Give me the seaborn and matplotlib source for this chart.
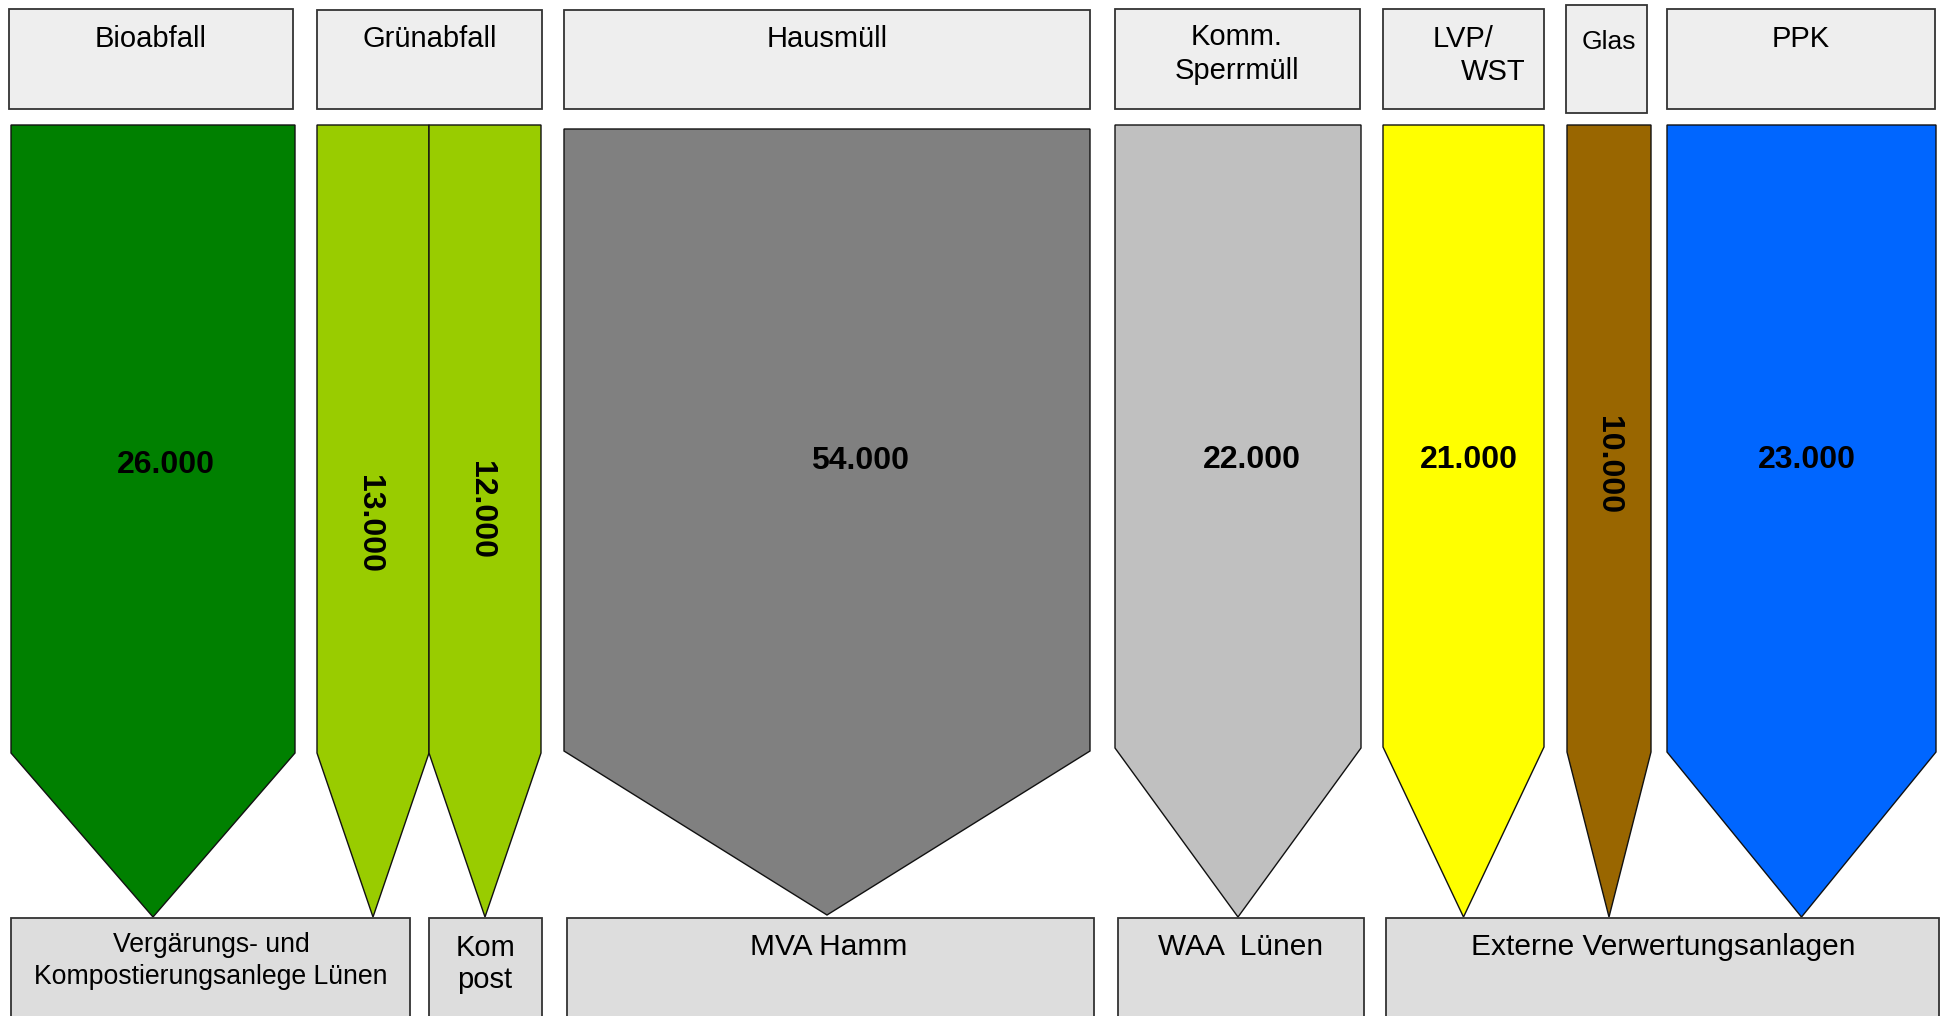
import matplotlib
matplotlib.use("Agg")
import matplotlib.pyplot as plt
from matplotlib.patches import Polygon, Rectangle
import seaborn as sns

# ---------------- data ----------------
flow_names = ["Bioabfall", "Grünabfall", "Grünabfall", "Hausmüll", "Komm. Sperrmüll",
              "LVP/WST", "Glas", "PPK"]
flow_values = [26000, 13000, 12000, 54000, 22000, 21000, 10000, 23000]
flow_colors = ["#008000", "#99cc00", "#99cc00", "#808080", "#c0c0c0",
               "#ffff00", "#996600", "#0066ff"]
flow_label_rot = [0, 270, 270, 0, 0, 0, 270, 0]

source_labels = ["Bioabfall", "Grünabfall", "Hausmüll", "Komm.\nSperrmüll",
                 "LVP/", "Glas", "PPK"]
source_extra = ["WST"]
target_labels = ["Vergärungs- und\nKompostierungsanlege Lünen", "Kom\npost",
                 "MVA Hamm", "WAA  Lünen", "Externe Verwertungsanlagen"]

# ---------------- layout (pixel space of the 1944x1016 canvas) ----------------
arrow_x0 = [11, 317, 429, 564, 1115, 1383, 1567, 1667]
arrow_x1 = [295, 429, 541, 1090, 1361, 1544, 1651, 1936]
arrow_top = [125, 125, 125, 129, 125, 125, 125, 125]
arrow_shoulder = [753, 753, 753, 751, 748, 747, 752, 752]
arrow_tip = [917, 917, 917, 915, 917, 917, 917, 917]
label_pos = [(166, 465), (369, 524), (481, 510), (860, 461), (1252, 460),
             (1469, 460), (1608, 465), (1807, 460)]

src_box = [(9, 9, 293, 109), (317, 10, 542, 109), (564, 10, 1090, 109),
           (1115, 9, 1360, 109), (1383, 9, 1544, 109), (1566, 5, 1647, 113),
           (1667, 9, 1935, 109)]
src_text_xy = [(151, 39), (430, 39), (827, 39), (1237, 54), (1463, 39), (1609, 42), (1801, 39)]
src_extra_xy = [(1493, 72)]
src_fs = [21, 21, 21, 21, 21, 19, 21]

tgt_box = [(11, 918, 410, 1030), (429, 918, 542, 1030), (567, 918, 1094, 1030),
           (1118, 918, 1364, 1030), (1386, 918, 1939, 1030)]
tgt_text_xy = [(211, 961), (485, 964), (829, 947), (1241, 947), (1663, 947)]
tgt_fs = [19.2, 21, 21.5, 21.5, 21.5]
tgt_ls = [1.25, 1.22, 1, 1, 1]

# ---------------- drawing ----------------
sns.set_theme(style="white")
plt.rcParams["font.family"] = ["Liberation Sans", "DejaVu Sans"]

fig = plt.figure(figsize=(19.44, 10.16), dpi=100)
ax = fig.add_axes([0, 0, 1, 1])
ax.set_xlim(0, 1944)
ax.set_ylim(1016, 0)
ax.axis("off")

# source boxes
for (x0, y0, x1, y1), txt, (tx, ty), fs in zip(src_box, source_labels, src_text_xy, src_fs):
    ax.add_patch(Rectangle((x0, y0), x1 - x0, y1 - y0, facecolor="#eeeeee",
                           edgecolor="#333333", linewidth=1.3))
    ax.text(tx, ty, txt, ha="center", va="center", fontsize=fs, color="black",
            linespacing=1.24)
for txt, (tx, ty) in zip(source_extra, src_extra_xy):
    ax.text(tx, ty, txt, ha="center", va="center", fontsize=21, color="black")

# flow arrows
for i, v in enumerate(flow_values):
    x0, x1 = arrow_x0[i], arrow_x1[i]
    xm = (x0 + x1) / 2
    poly = Polygon([(x0, arrow_top[i]), (x1, arrow_top[i]), (x1, arrow_shoulder[i]),
                    (xm, arrow_tip[i]), (x0, arrow_shoulder[i])], closed=True,
                   facecolor=flow_colors[i], edgecolor="#111111", linewidth=1.0)
    ax.add_patch(poly)
    lbl = f"{v:,}".replace(",", ".")
    lx, ly = label_pos[i]
    ax.text(lx, ly, lbl, ha="center", va="center", fontsize=23, fontweight="bold",
            rotation=flow_label_rot[i], color="black")

# target boxes
for (x0, y0, x1, y1), txt, (tx, ty), fs, ls in zip(tgt_box, target_labels, tgt_text_xy,
                                                    tgt_fs, tgt_ls):
    ax.add_patch(Rectangle((x0, y0), x1 - x0, y1 - y0, facecolor="#dddddd",
                           edgecolor="#333333", linewidth=1.3))
    ax.text(tx, ty, txt, ha="center", va="center", fontsize=fs, color="black",
            linespacing=ls)

fig.savefig("out.png", dpi=100, facecolor="white")
